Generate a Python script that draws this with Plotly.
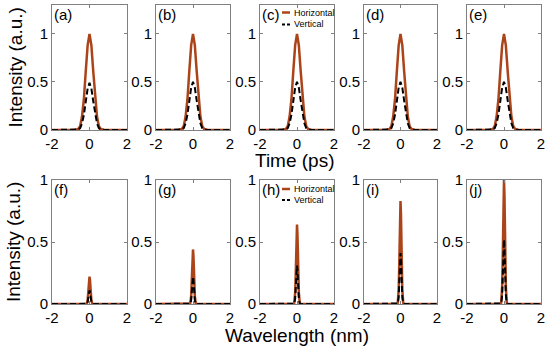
import plotly.graph_objects as go
from plotly.subplots import make_subplots

# ---- data ----
panel_top = ["(a)", "(b)", "(c)", "(d)", "(e)"]
panel_bot = ["(f)", "(g)", "(h)", "(i)", "(j)"]

# normalized pulse profile in time (ps)
time_x = [-2.0, -0.8, -0.6, -0.5, -0.4, -0.3, -0.2, -0.1, 0.0, 0.1, 0.2, 0.3, 0.4, 0.5, 0.6, 0.8, 2.0]
time_shape = [0, 0, 0.01, 0.04, 0.14, 0.32, 0.61, 0.88, 1.0, 0.88, 0.61, 0.32, 0.14, 0.04, 0.01, 0, 0]
time_h_peak = [1.0, 1.0, 1.0, 1.0, 1.0]
time_v_peak = [0.49, 0.5, 0.5, 0.5, 0.5]

# normalized spectrum profile in wavelength (nm)
wl_x = [-2.0, -0.2, -0.15, -0.1, -0.075, -0.05, -0.025, 0.0, 0.025, 0.05, 0.075, 0.1, 0.15, 0.2, 2.0]
wl_shape = [0, 0, 0.01, 0.14, 0.32, 0.61, 0.88, 1.0, 0.88, 0.61, 0.32, 0.14, 0.01, 0, 0]
wl_h_peak = [0.22, 0.44, 0.64, 0.83, 1.0]
wl_v_peak = [0.11, 0.22, 0.31, 0.41, 0.52]

x_ticks = [-2, 0, 2]
y_ticks = [0, 0.5, 1]
y_tick_text = ["0", "0.5", "1"]

H_COLOR = "rgb(172,68,26)"
V_COLOR = "black"
AX_COLOR = "#808080"
FONT = "Liberation Sans, Arial, sans-serif"

W, H = 550, 349
x_dom_px = [(52, 127), (156, 230), (260, 334), (364, 437), (467, 541)]
top_px = (5, 130)
bot_px = (180, 304)

fig = make_subplots(rows=2, cols=5)

for c in range(5):
    fig.add_trace(go.Scatter(x=time_x, y=[s * time_h_peak[c] for s in time_shape], mode="lines",
                             line=dict(color=H_COLOR, width=2.5), showlegend=False), row=1, col=c + 1)
    fig.add_trace(go.Scatter(x=time_x, y=[s * time_v_peak[c] for s in time_shape], mode="lines",
                             line=dict(color=V_COLOR, width=2, dash="6px,3px"), showlegend=False), row=1, col=c + 1)
    fig.add_trace(go.Scatter(x=wl_x, y=[s * wl_h_peak[c] for s in wl_shape], mode="lines",
                             line=dict(color=H_COLOR, width=2.5), showlegend=False), row=2, col=c + 1)
    fig.add_trace(go.Scatter(x=wl_x, y=[s * wl_v_peak[c] for s in wl_shape], mode="lines",
                             line=dict(color=V_COLOR, width=2, dash="6px,3px"), showlegend=False), row=2, col=c + 1)

axis_common = dict(showline=True, linecolor=AX_COLOR, linewidth=1, mirror="allticks",
                   ticks="inside", ticklen=3, tickcolor=AX_COLOR, showgrid=False, zeroline=False,
                   automargin=False,
                   tickfont=dict(family=FONT, size=15, color="black"))

for r in (1, 2):
    for c in range(5):
        idx = (r - 1) * 5 + c + 1
        sfx = '' if idx == 1 else str(idx)
        xd = [x_dom_px[c][0] / W, x_dom_px[c][1] / W]
        ypx = top_px if r == 1 else bot_px
        yd = [(H - ypx[1]) / H, (H - ypx[0]) / H]
        fig.layout[f"xaxis{sfx}"].update(
            domain=xd, range=[-2, 2], tickvals=x_ticks, ticktext=["-2", "0", "2"], **axis_common)
        fig.layout[f"yaxis{sfx}"].update(
            domain=yd, range=[0, 1.3] if r == 1 else [0, 1], tickvals=y_ticks, ticktext=y_tick_text,
            **axis_common)
        label = panel_top[c] if r == 1 else panel_bot[c]
        fig.add_annotation(text=label, xref=f"x{sfx} domain", yref=f"y{sfx} domain", x=0.0, y=1.0,
                           xanchor="left", yanchor="top", showarrow=False,
                           font=dict(family=FONT, size=15, color="black"), xshift=0, yshift=1)

# axis titles
for yc, xc in ((67.5, 15), (242, 14)):
    fig.add_annotation(text="Intensity (a.u.)", xref="paper", yref="paper", x=xc / W, y=1 - yc / H,
                       textangle=-90, showarrow=False, xanchor="center", yanchor="middle",
                       font=dict(family=FONT, size=19, color="black"))
fig.add_annotation(text="Time (ps)", xref="paper", yref="paper", x=295 / W, y=1 - 160.5 / H,
                   showarrow=False, xanchor="center", yanchor="middle",
                   font=dict(family=FONT, size=19, color="black"))
fig.add_annotation(text="Wavelength (nm)", xref="paper", yref="paper", x=297 / W, y=1 - 335 / H,
                   showarrow=False, xanchor="center", yanchor="middle",
                   font=dict(family=FONT, size=19, color="black"))

# in-panel legends of (c) and (h)
leg = [(282, 290, 292, 12.5, 24.5), (282, 290, 292, 189, 200)]
for x0, x1, xt, yh, yv in leg:
    fig.add_shape(type="line", xref="paper", yref="paper", x0=x0 / W, x1=x1 / W,
                  y0=1 - yh / H, y1=1 - yh / H, line=dict(color=H_COLOR, width=2.5))
    fig.add_shape(type="line", xref="paper", yref="paper", x0=x0 / W, x1=x1 / W,
                  y0=1 - yv / H, y1=1 - yv / H, line=dict(color="black", width=2, dash="3px,2px"))
    fig.add_annotation(text="Horizontal", xref="paper", yref="paper", x=xt / W, y=1 - yh / H,
                       xanchor="left", yanchor="middle", showarrow=False,
                       font=dict(family=FONT, size=9, color="black"))
    fig.add_annotation(text="Vertical", xref="paper", yref="paper", x=xt / W, y=1 - yv / H,
                       xanchor="left", yanchor="middle", showarrow=False,
                       font=dict(family=FONT, size=9, color="black"))

fig.update_layout(width=W, height=H, margin=dict(l=0, r=0, t=0, b=0, pad=0, autoexpand=False),
                  paper_bgcolor="white", plot_bgcolor="white", showlegend=False)

fig.write_html("out.html", config={"displayModeBar": False},
               post_script="document.body.style.margin='0';document.body.style.padding='0';")
